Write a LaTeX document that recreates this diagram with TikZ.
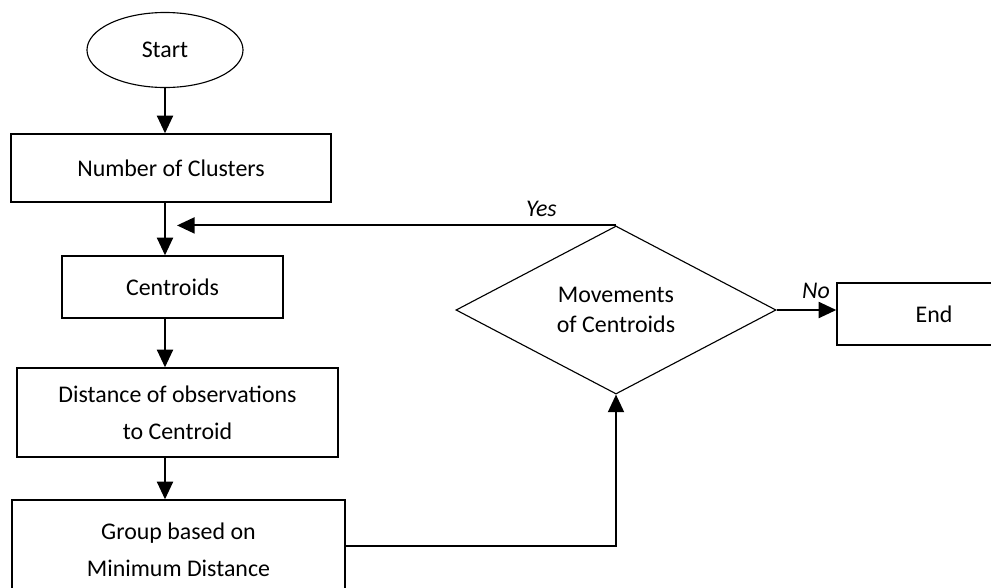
\documentclass[tikz,border=0pt]{standalone}
\usepackage{fontspec}
\setmainfont{Carlito}
\usetikzlibrary{shapes.geometric,arrows.meta}
\tikzset{
	box/.style={draw, line width=1pt, inner sep=0pt, align=center, font=\fontsize{17}{26}\selectfont},
	term/.style={draw, ellipse, line width=0.8pt, inner sep=0pt, font=\fontsize{17}{26}\selectfont},
	decide/.style={draw, diamond, line width=0.8pt, inner sep=0pt, align=center, font=\fontsize{17}{21}\selectfont},
	flow/.style={line width=1.4pt, -{Triangle[length=0.44cm,width=0.4cm]}},
	answer/.style={font=\fontsize{17}{20}\selectfont\itshape},
}

\begin{document}
\begin{tikzpicture}[x=0.025cm, y=-0.025cm]
	\useasboundingbox (0,0) rectangle (991,587);
	\node[term, minimum width=3.9cm, minimum height=1.875cm] (start) at (165,50) {Start};
	\node[box, minimum width=8cm, minimum height=1.7cm] (nclust) at (171,168) {Number of Clusters};
	\node[box, minimum width=5.525cm, minimum height=1.55cm] (cent) at (172.5,287) {Centroids};
	\node[box, minimum width=8.025cm, minimum height=2.225cm] (dist) at (177.5,412.5) {Distance of observations\\to Centroid};
	\node[box, minimum width=8.325cm, minimum height=2.5cm] (group) at (178.5,550) {Group based on\\Minimum Distance};
	\node[decide, minimum width=8cm, minimum height=4.2cm] (move) at (616,310) {Movements\\of Centroids};
	\node[box, minimum width=4.85cm, minimum height=1.55cm] (finish) at (934,314) {End};
	\coordinate (back) at (177,226);

	\draw[flow] (start.south) -- (start.south |- nclust.north);
	\draw[flow] (start.south |- nclust.south) -- (start.south |- cent.north);
	\draw[flow] (start.south |- cent.south) -- (start.south |- dist.north);
	\draw[flow] (start.south |- dist.south) -- (start.south |- group.north);

	\draw[flow] (move.north) -- node[answer, above=2pt, pos=0.17] {Yes} (move.north -| back);
	\draw[flow] (move.east) -- node[answer, above=4pt, pos=0.66] {No} (move.east -| finish.west);
	\draw[flow] ([yshift=0.1cm]group.east) -| (move.south);
\end{tikzpicture}
\end{document}
